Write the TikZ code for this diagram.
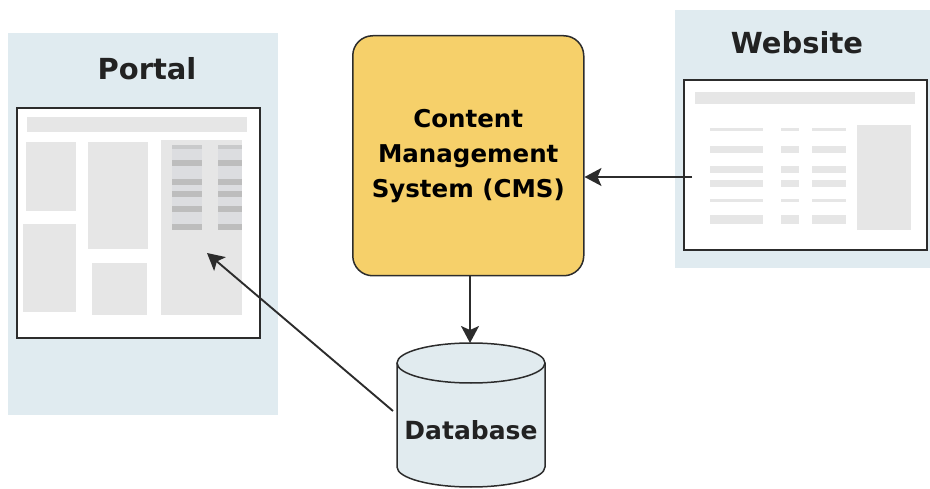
\documentclass[tikz,border=0pt]{standalone}
\usepackage{fontspec}
\setsansfont{DejaVu Sans}
\usetikzlibrary{arrows.meta}
\definecolor{panelblue}{HTML}{E0EBF0}
\definecolor{blockgray}{HTML}{E6E6E6}
\definecolor{stripelight}{HTML}{DCDDE0}
\definecolor{stripedark}{HTML}{BDBDBD}
\definecolor{cmsyellow}{HTML}{F6D06A}
\definecolor{edgegray}{HTML}{2C2C2C}
\definecolor{textdark}{HTML}{222222}
\definecolor{dbblue}{HTML}{E1EBEF}
\tikzset{
  panel/.style={fill=panelblue, draw=none},
  title/.style={font=\sffamily\bfseries\fontsize{29}{32}\selectfont, text=textdark, inner sep=0pt},
  page/.style={fill=white, draw=edgegray, line width=2.2pt},
  block/.style={fill=blockgray, draw=none},
  connector/.style={draw=edgegray, line width=1.9pt, -{Stealth[length=17pt,width=18pt,inset=4pt]}},
}
\begin{document}
\begin{tikzpicture}[x=1pt,y=1pt]
\useasboundingbox (0,0) rectangle (930,-489);
% Portal panel
\path[panel] (8,-33) rectangle (278,-415);
\node[title] (portaltitle) at (147,-69) {Portal};
\draw[page] (17,-108) rectangle (260,-338);
\path[block] (27,-117) rectangle (247,-132);
\path[block] (26,-142) rectangle (76,-211);
\path[block] (23,-224) rectangle (76,-312);
\path[block] (88,-142) rectangle (148,-249);
\path[block] (92,-263) rectangle (147,-315);
\path[block] (161,-140) rectangle (242,-315);
\path[fill=stripelight] (172,-145) rectangle (202,-230);
\path[fill=stripelight] (218,-145) rectangle (242,-230);
\foreach \yy in {163,182,194,209,227}{
  \path[fill=stripedark] (172,-\yy+3) rectangle (202,-\yy-3);
  \path[fill=stripedark] (218,-\yy+3) rectangle (242,-\yy-3);
}
\path[fill=stripedark!60!stripelight] (172,-145) rectangle (202,-149);
\path[fill=stripedark!60!stripelight] (218,-145) rectangle (242,-149);
\coordinate (portaltarget) at (207,-253);
% Website panel
\path[panel] (675,-10) rectangle (930,-268);
\node[title] (websitetitle) at (797,-43) {Website};
\draw[page] (684,-80) rectangle (927,-250);
\path[block] (695,-92) rectangle (915,-104);
\path[block] (857,-125) rectangle (911,-230);
\foreach \yy/\hh in {130/1.5,150/3.5,170/3.5,184/3.5,201/1.5,220/4.5}{
  \path[block] (710,-\yy+\hh) rectangle (763,-\yy-\hh);
  \path[block] (781,-\yy+\hh) rectangle (799,-\yy-\hh);
  \path[block] (812,-\yy+\hh) rectangle (846,-\yy-\hh);
}
\coordinate (websitestart) at (692,-177);
% CMS
\node[draw=edgegray, line width=1.5pt, fill=cmsyellow, rounded corners=20pt,
  minimum width=231pt, minimum height=240pt, inner sep=0pt, anchor=north west,
  align=center, text=black,
  font=\sffamily\bfseries\fontsize{24.5}{35}\selectfont] (cms) at (352,-35)
  {Content\\Management\\System (CMS)};
% Database cylinder
\path[fill=dbblue, draw=edgegray, line width=1.5pt]
  (397,-363) -- (397,-467) arc (180:360:74 and 20) -- (545,-363) arc (0:180:74 and 20) -- cycle;
\draw[edgegray, line width=1.5pt] (397,-363) arc (180:360:74 and 20);
\node[font=\sffamily\bfseries\fontsize{25}{28}\selectfont, text=textdark, inner sep=0pt] (db) at (471,-430) {Database};
\coordinate (dbtop) at (470,-343);
\coordinate (dbleft) at (393,-411);
% connectors
\draw[connector] (cms.south -| dbtop) -- (dbtop);
\draw[connector] (websitestart) -- (websitestart -| cms.east);
\draw[connector] (dbleft) -- (portaltarget);
\end{tikzpicture}
\end{document}
